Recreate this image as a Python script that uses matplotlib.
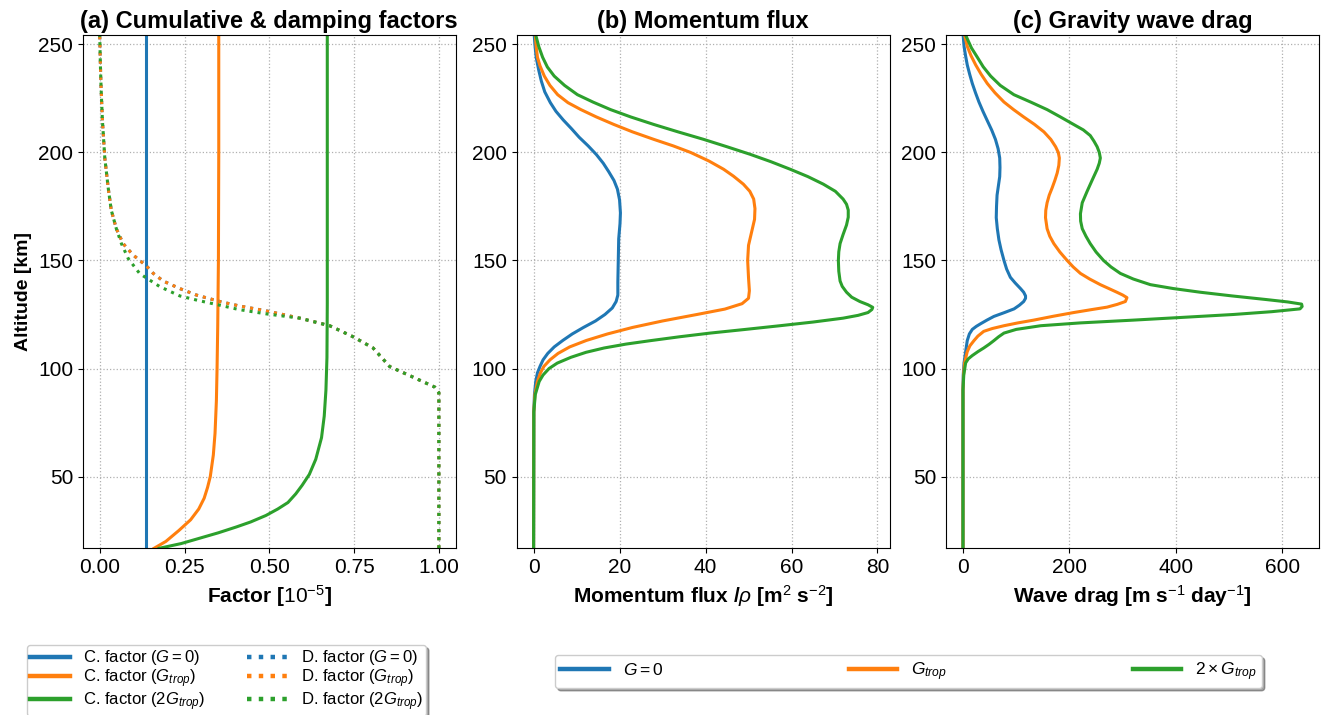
import matplotlib
matplotlib.use("Agg")
import matplotlib.pyplot as plt
from matplotlib.lines import Line2D

plt.rcParams["font.family"] = ["Liberation Sans", "DejaVu Sans"]
plt.rcParams["mathtext.fontset"] = "custom"
plt.rcParams["mathtext.rm"] = "Liberation Sans"
plt.rcParams["mathtext.it"] = "Liberation Sans:italic"
plt.rcParams["mathtext.bf"] = "Liberation Sans:bold"

C_BLUE, C_ORANGE, C_GREEN = "#1f77b4", "#ff7f0e", "#2ca02c"
ALT_MIN, ALT_MAX = 16.8, 254.3

# ---------------- (a) cumulative & damping factors ----------------
cf_g0_alt = [16.8, 254.3]
cf_g0 = [0.135, 0.135]

cf_trop_alt = [16.8, 20, 25, 30, 35, 40, 45, 50, 60, 70, 85, 100, 120, 150, 200, 254.3]
cf_trop = [0.160, 0.195, 0.233, 0.268, 0.292, 0.308, 0.318, 0.326, 0.335, 0.340,
           0.344, 0.346, 0.348, 0.350, 0.351, 0.351]

cf_2trop_alt = [16.8, 19, 21.5, 24, 26.7, 29, 32, 35, 38, 42, 46, 51, 58, 68, 78,
                90, 105, 130, 254.3]
cf_2trop = [0.175, 0.24, 0.295, 0.35, 0.403, 0.445, 0.49, 0.525, 0.555, 0.578,
            0.597, 0.618, 0.637, 0.654, 0.662, 0.667, 0.670, 0.671, 0.671]

df_alt = [16.8, 88.8, 91.4, 96, 100.9, 106, 109.5, 114.7, 119.8, 123.3, 126.7,
          129, 131, 134, 137, 140.5, 144, 147.4, 152.6, 157.8, 164.7, 173.3,
          183.6, 197.4, 214.7, 230, 240.5, 254.3]
df_g0 = [1.0, 1.0, 0.988, 0.924, 0.855, 0.826, 0.806, 0.747, 0.678, 0.59, 0.49,
         0.41, 0.354, 0.285, 0.236, 0.187, 0.158, 0.138, 0.098, 0.069, 0.049,
         0.034, 0.025, 0.015, 0.008, 0.004, 0.002, 0.0]
df_trop = [1.0, 1.0, 0.988, 0.924, 0.855, 0.826, 0.806, 0.747, 0.678, 0.59, 0.49,
           0.41, 0.354, 0.285, 0.236, 0.187, 0.158, 0.138, 0.098, 0.069, 0.049,
           0.034, 0.025, 0.015, 0.008, 0.004, 0.002, 0.0]

df_2trop_alt = [16.8, 88.8, 91.4, 96, 100.9, 106, 109.5, 114.7, 119.8, 123.3,
                125.3, 127.3, 129.3, 131.5, 133.6, 137.9, 143.9, 150.9, 157.8,
                164.7, 173.3, 183.6, 197.4, 214.7, 230, 240.5, 254.3]
df_2trop = [1.0, 1.0, 0.988, 0.924, 0.855, 0.826, 0.806, 0.747, 0.678, 0.59, 0.49,
            0.41, 0.354, 0.29, 0.236, 0.177, 0.118, 0.084, 0.064, 0.049, 0.034,
            0.025, 0.015, 0.008, 0.004, 0.002, 0.0]

# ---------------- (b) momentum flux ----------------
mf_g0_alt = [16.8, 80, 88, 94, 98, 101, 104, 107, 110, 113, 116, 119, 122, 125,
             128, 131, 134, 140, 150, 160, 167, 172, 178, 183, 187, 191, 195, 199,
             203, 207, 211, 215, 219, 223, 228, 233, 238, 244, 250, 254.3]
mf_g0 = [0, 0.05, 0.2, 0.5, 0.9, 1.5, 2.2, 3.3, 4.8, 6.8, 9.0, 11.6, 14.4, 16.6,
         18.3, 19.2, 19.6, 19.6, 19.7, 19.8, 20.1, 20.2, 20.0, 19.5, 18.7, 17.5,
         16.2, 14.6, 12.7, 10.6, 8.8, 6.9, 5.2, 3.9, 2.6, 1.8, 1.2, 0.6, 0.3, 0.15]

mf_trop_alt = [16.8, 80, 88, 94, 98, 101, 104, 107, 110, 113, 116, 119, 122, 125,
               127.5, 130, 132.5, 136, 142, 150, 157, 163, 169, 174, 178.4, 182,
               185.3, 189, 192.2, 196, 200, 203, 206, 209.5, 212.9, 216.4, 219.8,
               223, 226.7, 231, 235.3, 240, 244, 249, 254.3]
mf_trop = [0, 0.05, 0.3, 0.9, 1.6, 2.4, 3.8, 5.7, 8.4, 12.3, 17.2, 23.0, 30.0,
           38.0, 44.5, 48.5, 50.0, 50.2, 50.0, 49.8, 50.0, 50.7, 51.4, 51.5, 51.2,
           50.3, 48.8, 46.5, 44.2, 40.8, 36.5, 32.5, 28.0, 23.0, 18.7, 14.6, 11.0,
           8.0, 5.6, 3.8, 2.5, 1.5, 0.9, 0.6, 0.4]

mf_2trop_alt = [16.8, 80, 88, 94, 97, 100, 102.5, 105.2, 107.5, 109.5, 111.3,
                112.9, 114.7, 116.4, 118.1, 119.8, 121.5, 123.3, 124.6, 125.9,
                127.3, 128.3, 129.5, 131, 133, 135.3, 138, 140.5, 145, 150, 154,
                157.8, 162, 166.4, 170, 173.3, 176, 178.4, 182, 185.3, 188.8,
                192.2, 195.7, 199.1, 202.6, 206, 209.5, 212.9, 216.4, 219.8,
                223.3, 226.7, 231, 235.3, 239.5, 244, 249, 254.3]
mf_2trop = [0, 0.05, 0.4, 1.3, 2.2, 3.6, 5.5, 8.7, 12.2, 16.4, 21.5, 27.2, 34.0,
            41.1, 49.3, 57.3, 65.0, 72.0, 75.5, 77.8, 78.7, 78.9, 77.8, 75.9,
            74.0, 72.8, 71.8, 71.3, 71.0, 70.9, 71.0, 71.3, 72.0, 72.8, 73.2,
            73.2, 72.8, 72.0, 70.2, 67.4, 63.8, 59.7, 55.2, 50.4, 45.0, 39.6,
            33.6, 28.0, 22.6, 17.9, 13.8, 10.2, 7.2, 4.8, 3.2, 2.1, 1.2, 0.5]

# ---------------- (c) gravity wave drag ----------------
wd_g0_alt = [16.8, 90, 97, 102.6, 107.8, 112.9, 116, 118.1, 119.5, 120.7, 122.4,
             124.1, 125.9, 127.6, 129.3, 131, 132.5, 133.6, 135.3, 137, 139.6,
             142.2, 146, 150, 155, 159.5, 164.7, 169.8, 175, 180.2, 184.5, 188.8,
             193, 197.4, 201.7, 206, 210.3, 214.7, 219, 223.3, 227.6, 231.9,
             236.2, 240.5, 244.8, 249.1, 254.3]
wd_g0 = [0, 0, 0.5, 2, 5, 8, 12, 17.5, 25, 33, 45, 58, 78, 96, 106, 114, 117.5,
         117.5, 114, 108, 98, 89, 82, 77, 71.5, 67.5, 64.5, 62.5, 63, 64, 66.5,
         69, 69.5, 69, 66, 61, 54, 45.6, 37.5, 30, 23.5, 17.5, 12.5, 8, 4.8, 2,
         0.3]

wd_trop_alt = [16.8, 90, 97, 102.6, 107.8, 110.5, 112.9, 115, 117.2, 118.5,
               119.8, 121.1, 122.4, 124.2, 125.9, 127.2, 128.4, 129.7, 131,
               132.8, 134, 135.3, 137, 138.8, 141.4, 144, 147, 150, 153.9, 157.8,
               161.2, 164.7, 169.8, 173.2, 176.7, 180.2, 183.6, 187, 190.5, 194,
               197.4, 200, 202.6, 206, 209.5, 213, 216.4, 219.8, 223.3, 227.6,
               231.9, 236.2, 240.5, 244.8, 249.1, 254.3]
wd_trop = [0, 0, 1, 3, 8, 13, 20.6, 28, 39, 55, 77, 103, 133, 170, 208, 240,
           270.6, 290, 305, 308, 300, 289, 274, 258, 238, 220.6, 207, 195.6, 182,
           170.6, 163, 158, 155, 155.5, 158, 162, 167.5, 172.5, 177, 180, 181,
           179, 174, 165, 152, 134, 114, 95, 77, 60, 45.6, 34, 23.8, 15, 8, 3]

wd_2trop_alt = [16.8, 90, 97, 102.6, 104.5, 106, 107.8, 109.5, 111.2, 112.9,
                114.7, 116.4, 118.1, 119.8, 121.1, 122.4, 123.7, 125, 126.3,
                127.6, 128.7, 129.8, 130.8, 131.9, 133.6, 135.3, 137, 138.8,
                141.4, 144, 147, 150, 153.9, 157.8, 161.2, 164.7, 168.2, 171.6,
                176.7, 181.9, 187.1, 192.2, 195, 197.4, 200, 202.6, 205.2, 207.8,
                210.4, 212.9, 216.4, 219.8, 223.3, 226.7, 231, 235.3, 239.6, 244,
                248.3, 252.6, 254.3]
wd_2trop = [0, 0, 1.5, 5, 10, 17.5, 28, 39, 49, 58, 67, 77, 100, 146, 220, 320.6,
            415, 508, 580, 633, 637, 636, 610, 570, 505, 445.6, 395, 352, 320,
            295.6, 278, 264, 250, 239, 231, 224, 221, 220.6, 224, 233, 242.5, 252,
            256, 258, 256, 252, 246, 239, 226, 208, 183, 158, 127, 95.6, 70, 52,
            38, 27, 16, 8, 5]

# ---------------- figure ----------------
fig = plt.figure(figsize=(13.22, 7.15), dpi=100)
ax_w, ax_h, ax_b = 0.2822, 0.7179, 0.2331
ax_a = fig.add_axes([0.0626, ax_b, ax_w, ax_h])
ax_b_ = fig.add_axes([0.3908, ax_b, ax_w, ax_h])
ax_c = fig.add_axes([0.7156, ax_b, ax_w, ax_h])

LW = 2.2
ax_a.plot(cf_g0, cf_g0_alt, color=C_BLUE, lw=LW)
ax_a.plot(cf_trop, cf_trop_alt, color=C_ORANGE, lw=LW)
ax_a.plot(cf_2trop, cf_2trop_alt, color=C_GREEN, lw=LW)
ax_a.plot(df_g0, df_alt, color=C_BLUE, lw=LW, ls=":")
ax_a.plot(df_trop, df_alt, color=C_ORANGE, lw=LW, ls=":")
ax_a.plot(df_2trop, df_2trop_alt, color=C_GREEN, lw=LW, ls=":")

ax_b_.plot(mf_g0, mf_g0_alt, color=C_BLUE, lw=LW)
ax_b_.plot(mf_trop, mf_trop_alt, color=C_ORANGE, lw=LW)
ax_b_.plot(mf_2trop, mf_2trop_alt, color=C_GREEN, lw=LW)

ax_c.plot(wd_g0, wd_g0_alt, color=C_BLUE, lw=LW)
ax_c.plot(wd_trop, wd_trop_alt, color=C_ORANGE, lw=LW)
ax_c.plot(wd_2trop, wd_2trop_alt, color=C_GREEN, lw=LW)

titles = ["(a) Cumulative & damping factors", "(b) Momentum flux",
          "(c) Gravity wave drag"]
xlabels = [r"Factor [$10^{-5}$]", r"Momentum flux /$\rho$ [m$^2$ s$^{-2}$]",
           r"Wave drag [m s$^{-1}$ day$^{-1}$]"]
for ax, t, xl in zip([ax_a, ax_b_, ax_c], titles, xlabels):
    ax.set_ylim(ALT_MIN, ALT_MAX)
    ax.set_yticks([50, 100, 150, 200, 250])
    ax.set_title(t, fontsize=17, fontweight="bold", pad=5)
    ax.set_xlabel(xl, fontsize=15, fontweight="bold")
    ax.tick_params(labelsize=15)
    ax.grid(True, ls=":", color="#b0b0b0", lw=0.9)
ax_a.set_ylabel("Altitude [km]", fontsize=14, fontweight="bold")
ax_b_.set_xticks([0, 20, 40, 60, 80])
ax_c.set_xticks([0, 200, 400, 600])

# legends
h1 = [Line2D([], [], color=c, lw=3.2) for c in (C_BLUE, C_ORANGE, C_GREEN)]
h1 += [Line2D([], [], color=c, lw=3.2, ls=":") for c in (C_BLUE, C_ORANGE, C_GREEN)]
l1 = [r"C. factor ($G = 0$)", r"C. factor ($G_{trop}$)", r"C. factor ($2G_{trop}$)",
      r"D. factor ($G = 0$)", r"D. factor ($G_{trop}$)", r"D. factor ($2G_{trop}$)"]
fig.legend(h1, l1, ncol=2, loc="upper left", bbox_to_anchor=(0.0202, 0.0979),
           borderaxespad=0, fontsize=12, shadow=True, labelspacing=0.0,
           borderpad=0.2, handlelength=2.4, columnspacing=2.5)

h2 = [Line2D([], [], color=c, lw=3.2) for c in (C_BLUE, C_ORANGE, C_GREEN)]
l2 = [r"$G = 0$", r"$G_{trop}$", r"$2 \times G_{trop}$"]
fig.legend(h2, l2, ncol=3, loc="upper left", mode="expand",
           bbox_to_anchor=(0.4198, 0.0339, 0.5348, 0.05), borderaxespad=0,
           fontsize=12.5, shadow=True, handlelength=2.8, borderpad=0.3)

fig.savefig("out.png", dpi=100)
